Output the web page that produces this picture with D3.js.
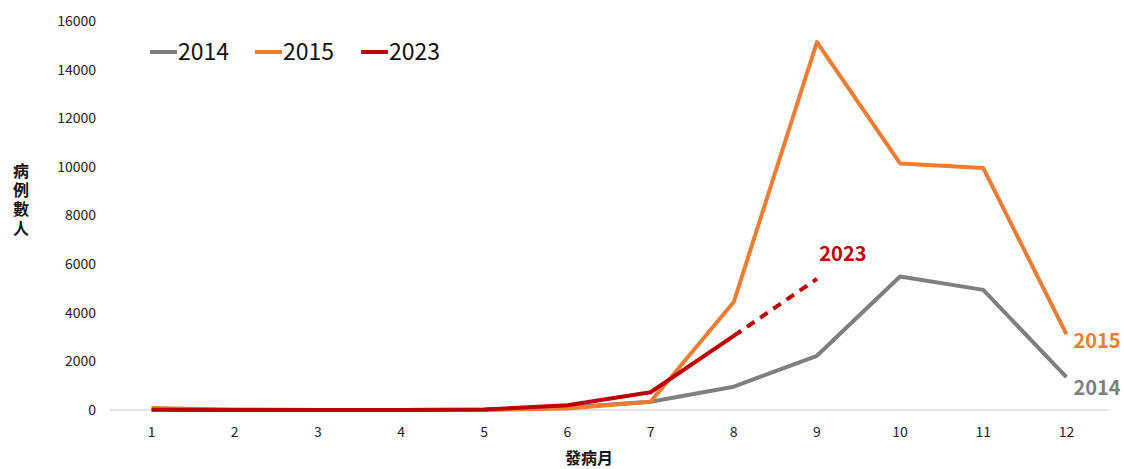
<!DOCTYPE html>
<html><head><meta charset="utf-8">
<script src="https://cdn.jsdelivr.net/npm/d3@7"></script>
<style>body{margin:0;background:#fff}svg{display:block}</style>
</head><body><svg id="c" width="1124" height="469"></svg>
<script>
const months = [1,2,3,4,5,6,7,8,9,10,11,12];
const yTicks = [0,2000,4000,6000,8000,10000,12000,14000,16000];
const s2014 = [20,10,5,5,10,100,340,960,2230,5490,4940,1350];
const s2015 = [80,15,5,5,10,60,340,4440,15130,10140,9950,3120];
const s2023 = [10,5,5,5,20,195,730,3050];
const s2023proj = [3050,5390]; // months 8-9 (dashed)
const seriesNames = ["2014","2015","2023"];
const colors = {"2014":"#7f7f7f","2015":"#ed7d31","2023":"#c00000"};
const font = "'Noto Sans CJK TC','Noto Sans',sans-serif";

const svg = d3.select("#c");
const x = d3.scaleBand().domain(months).range([110,1108]);
const y = d3.scaleLinear().domain([0,16000]).range([410,21]);
const cx = m => x(m) + x.bandwidth()/2;

// baseline
svg.append("line").attr("x1",110).attr("x2",1108).attr("y1",y(0)).attr("y2",y(0))
  .attr("stroke","#d9d9d9").attr("stroke-width",1.5);

// y axis
const ya = svg.append("g").attr("transform","translate(96,0)")
  .call(d3.axisLeft(y).tickValues(yTicks).tickSize(0).tickPadding(0).tickFormat(d3.format("d")));
ya.select(".domain").remove();
ya.selectAll("text").attr("font-family",font).attr("font-size",14).attr("fill","#222");

// x axis
const xa = svg.append("g").attr("transform","translate(0,"+(y(0)+17)+")")
  .call(d3.axisBottom(x).tickSize(0).tickPadding(0));
xa.select(".domain").remove();
xa.selectAll("text").attr("font-family",font).attr("font-size",14).attr("fill","#222");

function draw(data, col, offset, dash){
  const l = d3.line().x((d,i)=>cx(months[i+offset])).y(d=>y(d));
  svg.append("path").datum(data).attr("d",l).attr("fill","none")
    .attr("stroke",col).attr("stroke-width",4).attr("stroke-linejoin","round")
    .attr("stroke-dasharray",dash||null);
}
draw(s2014, colors["2014"], 0);
draw(s2015, colors["2015"], 0);
draw(s2023, colors["2023"], 0);
draw(s2023proj, colors["2023"], 7, "9,7");

// end labels
svg.append("text").attr("x",cx(9)+26).attr("y",y(5390)-18).attr("text-anchor","middle")
  .attr("font-family",font).attr("font-weight","bold").attr("font-size",20).attr("fill",colors["2023"]).text("2023");
svg.append("text").attr("x",cx(12)+7).attr("y",y(3120)+14).attr("font-family",font)
  .attr("font-weight","bold").attr("font-size",20).attr("fill",colors["2015"]).text("2015");
svg.append("text").attr("x",cx(12)+7).attr("y",y(1350)+18).attr("font-family",font)
  .attr("font-weight","bold").attr("font-size",20).attr("fill",colors["2014"]).text("2014");

// legend
const lx = [150,255,361];
seriesNames.forEach((n,i)=>{
  svg.append("line").attr("x1",lx[i]).attr("x2",lx[i]+27).attr("y1",52).attr("y2",52)
    .attr("stroke",colors[n]).attr("stroke-width",4);
  svg.append("text").attr("x",lx[i]+28).attr("y",60).attr("font-family",font)
    .attr("font-size",23).attr("fill","#111").text(n);
});

// axis titles
svg.append("text").attr("x",21).attr("y",163)
  .style("writing-mode","vertical-rl").style("letter-spacing","3px")
  .attr("font-family",font).attr("font-weight","bold").attr("font-size",16).attr("fill","#111").text("病例數人");
svg.append("text").attr("x",589).attr("y",464).attr("text-anchor","middle")
  .attr("font-family",font).attr("font-weight","bold").attr("font-size",16).attr("fill","#111").text("發病月");
</script></body></html>
